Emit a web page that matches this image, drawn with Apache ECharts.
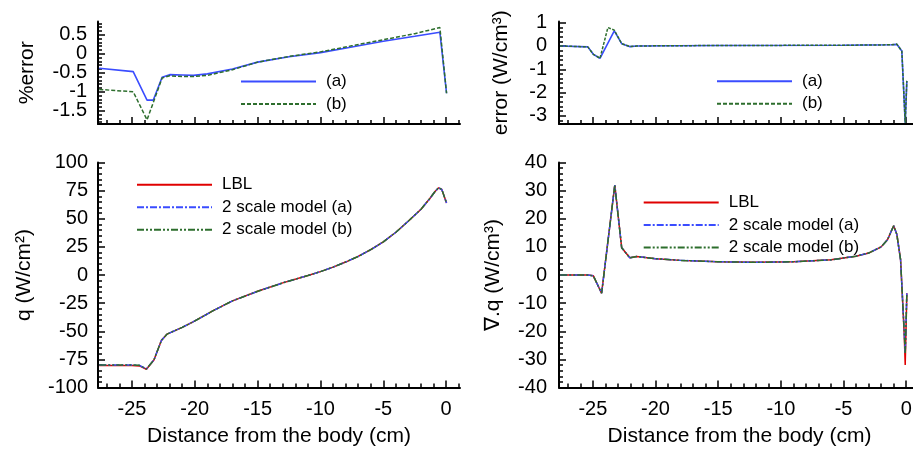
<!DOCTYPE html>
<html><head><meta charset="utf-8">
<script src="https://cdn.jsdelivr.net/npm/echarts@6/dist/echarts.min.js"></script>
<style>html,body{margin:0;padding:0;background:#fff}#c{width:913px;height:450px}</style>
</head><body><div id="c"></div>
<script>
// ---------- DATA ----------
// Top-left: %error
const pctA_x = [-27.6, -24.9, -23.8, -23.3, -22.6, -22.0, -21.0, -20.1, -19, -17, -15, -12.5, -10, -7.5, -5, -2.5, -0.5, 0.03];
const pctA_y = [-0.38, -0.47, -1.22, -1.22, -0.62, -0.55, -0.56, -0.57, -0.53, -0.40, -0.22, -0.08, 0.03, 0.18, 0.33, 0.46, 0.565, -1.04];
const pctB_x = [-27.6, -24.9, -23.8, -22.6, -22.0, -21.0, -20.1, -19, -17, -15, -12.5, -10, -7.5, -5, -2.5, -0.5, 0.03];
const pctB_y = [-0.94, -1.0, -1.74, -0.64, -0.58, -0.6, -0.6, -0.57, -0.42, -0.22, -0.07, 0.05, 0.21, 0.37, 0.53, 0.69, -1.04];
// Top-right: error (W/cm3)
const errA_x = [-27.6, -25.4, -24.96, -24.43, -23.29, -22.7, -22.03, -21.5, -15, -5, -1.2, -0.75, -0.35, -0.08, 0.05];
const errA_y = [0, -0.04, -0.36, -0.53, 0.65, 0.1, -0.03, 0, 0.02, 0.03, 0.05, 0.07, -0.22, -3.3, -1.5];
const errB_x = [-27.6, -25.4, -24.96, -24.43, -23.8, -23.29, -22.7, -22.03, -21.5, -15, -5, -1.2, -0.75, -0.35, -0.08, 0.05];
const errB_y = [0, -0.04, -0.36, -0.53, 0.79, 0.68, 0.1, -0.03, 0, 0.02, 0.03, 0.05, 0.08, -0.22, -3.3, -1.5];
// Bottom-left: q (W/cm2)
const q_x = [-27.6, -25, -24.4, -23.85, -23.25, -22.65, -22.2, -21, -20.1, -18.5, -17, -15, -13, -11, -10, -9, -8, -7, -6, -5, -4, -3, -2, -1.3, -0.9, -0.6, -0.35, 0.03];
const qLBL_y = [-80.5, -80.5, -80.8, -83.8, -75.5, -58, -52.5, -46.5, -41.5, -31.5, -23, -14.5, -7, -0.5, 3, 7, 11.5, 16.5, 22.5, 29.5, 38, 48, 58.5, 68, 74, 77.5, 76, 64];
const qA_y   = [-80, -80, -80.3, -83.5, -75.5, -58, -52.5, -46.5, -41.5, -31.5, -23, -14.5, -7, -0.5, 3, 7, 11.5, 16.5, 22.5, 29.5, 38, 48, 58.5, 68, 74, 77.5, 76, 64];
const qB_y   = [-80, -80, -80.3, -83.5, -75.5, -58, -52.5, -46.5, -41.5, -31.5, -23, -14.5, -7, -0.5, 3, 7, 11.5, 16.5, 22.5, 29.5, 38, 48, 58.5, 68, 74, 77.5, 76, 64];
// Bottom-right: div q (W/cm3)
const dq_x = [-27.6, -25.4, -24.96, -24.3, -23.25, -22.7, -22.05, -21.5, -20, -18, -15, -12, -9, -6, -4, -3, -2, -1.5, -1.0, -0.75, -0.45, -0.3, -0.15, -0.08, 0.05];
const dqLBL_y = [0, 0, -0.3, -6.5, 32, 9.7, 6.1, 6.6, 5.8, 5.2, 4.7, 4.5, 4.7, 5.4, 6.7, 7.8, 10, 12.5, 17.5, 14.5, 5.5, -8, -22, -32, -6.5];
const dqA_y   = [0, 0, -0.3, -6.5, 32, 9.7, 6.1, 6.6, 5.8, 5.2, 4.7, 4.5, 4.7, 5.4, 6.7, 7.8, 10, 12.5, 17.5, 14.5, 5.5, -8, -21, -28, -6.5];
const dqB_y   = [0, 0, -0.3, -6.5, 32, 9.7, 6.1, 6.6, 5.8, 5.2, 4.7, 4.5, 4.7, 5.4, 6.7, 7.8, 10, 12.5, 17.5, 14.5, 5.5, -8, -21, -28, -6.5];

// Tick labels
const xTicks = [-25, -20, -15, -10, -5, 0];
const pctTicks = [-1.5, -1, -0.5, 0, 0.5];
const errTicks = [-3, -2, -1, 0, 1];
const qTicks = [-100, -75, -50, -25, 0, 25, 50, 75, 100];
const dqTicks = [-40, -30, -20, -10, 0, 10, 20, 30, 40];

// ---------- CHART ----------
const FONT = 'Liberation Sans, Arial, Helvetica, sans-serif';
const pairs = (xs, ys) => xs.map((x, i) => [x, ys[i]]);
const range = (a, b, s) => { const r = []; for (let k = Math.round(a / s); k <= Math.round(b / s); k++) r.push(+(k * s).toFixed(4)); return r; };
const xMinor = range(-27, 1, 1);

const grids = [
  { left: 98, top: 21.5, width: 362, height: 102.5 },
  { left: 559, top: 21.5, width: 361, height: 102.5 },
  { left: 98, top: 162.5, width: 362, height: 225 },
  { left: 559, top: 162.5, width: 361, height: 225 }
];
const yCfg = [
  { min: -1.85, max: 0.85, major: pctTicks, minor: range(-1.8, 0.8, 0.1), name: '%error', gap: 60, margin: 11 },
  { min: -3.35, max: 1.05, major: errTicks, minor: range(-3.2, 1.0, 0.2), name: 'error (W/cm³)', gap: 47, margin: 12 },
  { min: -100, max: 100, major: qTicks, minor: range(-100, 100, 5), name: 'q (W/cm²)', gap: 63, margin: 10 },
  { min: -40, max: 40, major: dqTicks, minor: range(-40, 40, 2), name: '∇.q (W/cm³)', gap: 55, margin: 12 }
];
const tickLine = () => ({ color: '#000', width: 1.5 });
const labelStyle = (margin) => ({ fontSize: 20, color: '#000', fontFamily: FONT, margin, hideOverlap: false, showMinLabel: true, showMaxLabel: true, formatter: v => String(v) });
const xAxes = [], yAxes = [];
grids.forEach((g, gi) => {
  const bottom = gi >= 2;
  xAxes.push({
    type: 'value', gridIndex: gi, position: 'bottom', min: -27.7, max: 1.1,
    axisLine: { show: true, onZero: false, lineStyle: { color: '#000', width: 2 } },
    axisTick: { show: true, inside: true, length: 7, customValues: xTicks, lineStyle: tickLine() },
    axisLabel: Object.assign({ show: bottom, customValues: xTicks }, labelStyle(12)),
    splitLine: { show: false },
    name: bottom ? 'Distance from the body (cm)' : '', nameLocation: 'middle', nameGap: 38, nameMoveOverlap: false,
    nameTextStyle: { fontSize: 21, color: '#000', fontFamily: FONT }
  });
  xAxes.push({
    type: 'value', gridIndex: gi, position: 'bottom', min: -27.7, max: 1.1,
    axisLine: { show: false, onZero: false },
    axisTick: { show: true, inside: true, length: 4, customValues: xMinor, lineStyle: tickLine() },
    axisLabel: { show: false }, splitLine: { show: false }
  });
  const c = yCfg[gi];
  // labels split over two axes so that close labels are never dropped
  const labA = c.major.filter((v, i) => i % 2 === 0);
  const labB = c.major.filter((v, i) => i % 2 === 1);
  yAxes.push({
    type: 'value', gridIndex: gi, position: 'left', min: c.min, max: c.max,
    axisLine: { show: true, onZero: false, lineStyle: { color: '#000', width: 2 } },
    axisTick: { show: true, inside: true, length: 7, customValues: c.major, lineStyle: tickLine() },
    axisLabel: Object.assign({ show: true, customValues: labA }, labelStyle(c.margin)),
    splitLine: { show: false },
    name: c.name, nameLocation: 'middle', nameRotate: 90, nameGap: c.gap, nameMoveOverlap: false,
    nameTextStyle: { fontSize: 21, color: '#000', fontFamily: FONT }
  });
  yAxes.push({
    type: 'value', gridIndex: gi, position: 'left', min: c.min, max: c.max,
    axisLine: { show: false, onZero: false },
    axisTick: { show: true, inside: true, length: 4, customValues: c.minor, lineStyle: tickLine() },
    axisLabel: Object.assign({ show: true, customValues: labB }, labelStyle(c.margin)),
    splitLine: { show: false }
  });
});

const BLUE = '#3a4cff', GREEN = '#2d6e2d', RED = '#e00000';
function line(name, gi, data, color, type, width) {
  return {
    type: 'line', name, xAxisIndex: gi * 2, yAxisIndex: gi * 2, data,
    symbol: 'none', showSymbol: false, animation: false, silent: true,
    lineStyle: { color, width: width || 1.5, type: type || 'solid' },
    itemStyle: { color }
  };
}
const series = [
  line('(a)', 0, pairs(pctA_x, pctA_y), BLUE, 'solid', 1.6),
  line('(b)', 0, pairs(pctB_x, pctB_y), GREEN, [4, 2], 1.5),
  line('(a)', 1, pairs(errA_x, errA_y), BLUE, 'solid', 1.6),
  line('(b)', 1, pairs(errB_x, errB_y), GREEN, [3, 1.5], 1.5),
  line('LBL', 2, pairs(q_x, qLBL_y), RED, 'solid', 1.5),
  line('2 scale model (a)', 2, pairs(q_x, qA_y), BLUE, [7, 2, 2, 2], 1.5),
  line('2 scale model (b)', 2, pairs(q_x, qB_y), GREEN, [7, 2, 2, 2, 2, 2], 1.5),
  line('LBL', 3, pairs(dq_x, dqLBL_y), RED, 'solid', 1.5),
  line('2 scale model (a)', 3, pairs(dq_x, dqA_y), BLUE, [7, 2, 2, 2], 1.5),
  line('2 scale model (b)', 3, pairs(dq_x, dqB_y), GREEN, [7, 2, 2, 2, 2, 2], 1.5)
];
function legend(names, left, top) {
  return {
    data: names, orient: 'vertical', left, top, itemWidth: 75, itemHeight: 14, itemGap: 5.5,
    padding: 0, selectedMode: false,
    itemStyle: { opacity: 0 },
    textStyle: { fontSize: 17, color: '#000', fontFamily: FONT, padding: [0, 0, 0, 5] }
  };
}
const chart = echarts.init(document.getElementById('c'), null, { renderer: 'canvas' });
chart.setOption({
  backgroundColor: '#fff',
  animation: false,
  textStyle: { fontFamily: FONT },
  grid: grids.map(g => Object.assign({ outerBoundsMode: 'none', containLabel: false }, g)),
  xAxis: xAxes,
  yAxis: yAxes,
  legend: [
    legend(['(a)', '(b)'], 240, 73),
    legend(['(a)', '(b)'], 716, 72.7),
    legend(['LBL', '2 scale model (a)', '2 scale model (b)'], 136, 176.3),
    legend(['LBL', '2 scale model (a)', '2 scale model (b)'], 642.7, 194)
  ],
  series
});
</script>
</body></html>
